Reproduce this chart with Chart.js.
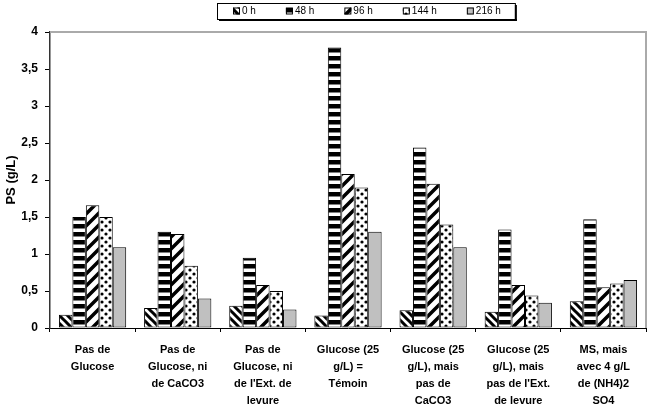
<!DOCTYPE html>
<html>
<head>
<meta charset="utf-8">
<script src="https://cdn.jsdelivr.net/npm/chart.js@4"></script>
<style>
  html, body { margin: 0; padding: 0; background: #fff; }
  #wrap { width: 670px; height: 410px; }
</style>
</head>
<body>
<div id="wrap"><canvas id="c" width="670" height="410"></canvas></div>
<script>
const categories = [
  ["Pas de", "Glucose"],
  ["Pas de", "Glucose, ni", "de CaCO3"],
  ["Pas de", "Glucose, ni", "de l'Ext. de", "levure"],
  ["Glucose (25", "g/L) =", "Témoin"],
  ["Glucose (25", "g/L), mais", "pas de", "CaCO3"],
  ["Glucose (25", "g/L), mais", "pas de l'Ext.", "de levure"],
  ["MS, mais", "avec 4 g/L", "de (NH4)2", "SO4"]
];
const seriesLabels = ["0 h", "48 h", "96 h", "144 h", "216 h"];
const values0h   = [0.18, 0.27, 0.30, 0.17, 0.24, 0.22, 0.36];
const values48h  = [1.50, 1.30, 0.95, 3.79, 2.44, 1.33, 1.47];
const values96h  = [1.66, 1.27, 0.58, 2.08, 1.95, 0.58, 0.55];
const values144h = [1.50, 0.84, 0.50, 1.90, 1.40, 0.44, 0.60];
const values216h = [1.09, 0.40, 0.25, 1.30, 1.09, 0.34, 0.65];
const yTicks = [0, 0.5, 1, 1.5, 2, 2.5, 3, 3.5, 4];

const FONT = "'Liberation Sans', Arial, sans-serif";

function makePattern(w, h, draw) {
  const cv = document.createElement('canvas');
  cv.width = w; cv.height = h;
  const g = cv.getContext('2d');
  g.fillStyle = '#fff';
  g.fillRect(0, 0, w, h);
  g.fillStyle = '#000';
  g.strokeStyle = '#000';
  draw(g, w, h);
  return document.getElementById('c').getContext('2d').createPattern(cv, 'repeat');
}
const pat0 = makePattern(8, 8, (g, w, h) => {
  g.lineWidth = 3;
  g.beginPath();
  g.moveTo(-2, -2); g.lineTo(w + 2, h + 2);
  g.moveTo(-2, h - 2); g.lineTo(2, h + 2);
  g.moveTo(w - 2, -2); g.lineTo(w + 2, 2);
  g.stroke();
});
const pat48 = makePattern(8, 8, (g, w, h) => {
  g.fillRect(0, 0, w, 4.5);
});
const pat96 = makePattern(12, 12, (g, w, h) => {
  g.lineWidth = 3.5;
  g.beginPath();
  g.moveTo(-2, h + 2); g.lineTo(w + 2, -2);
  g.moveTo(-2, 2); g.lineTo(2, -2);
  g.moveTo(w - 2, h + 2); g.lineTo(w + 2, h - 2);
  g.stroke();
});
const pat144 = makePattern(8, 8, (g, w, h) => {
  g.beginPath(); g.arc(2, 2, 1.6, 0, Math.PI * 2); g.fill();
  g.beginPath(); g.arc(6, 6, 1.6, 0, Math.PI * 2); g.fill();
});
const fills = [pat0, pat48, pat96, pat144, '#c0c0c0'];
const seriesValues = [values0h, values48h, values96h, values144h, values216h];

const frameAndLegend = {
  id: 'frameAndLegend',
  afterDraw(chart) {
    const ctx = chart.ctx;
    const a = chart.chartArea;
    ctx.save();
    ctx.strokeStyle = '#aaaaaa';
    ctx.lineWidth = 2;
    ctx.beginPath();
    ctx.moveTo(a.left, a.top);
    ctx.lineTo(a.right, a.top);
    ctx.lineTo(a.right, a.bottom);
    ctx.stroke();
    ctx.font = '10px ' + FONT;
    ctx.textBaseline = 'middle';
    const startX = 233, cy = 11, sw = 7, gap = 30;
    let x = startX;
    let lastEnd = x;
    chart.data.datasets.forEach((ds) => {
      ctx.fillStyle = ds.backgroundColor;
      ctx.fillRect(x, cy - 3.5, sw, sw);
      ctx.strokeStyle = '#000';
      ctx.lineWidth = 1;
      ctx.strokeRect(x + 0.5, cy - 3, sw - 1, sw - 1);
      ctx.fillStyle = '#000';
      const tx = x + sw + 2;
      ctx.fillText(ds.label, tx, cy + 0.5);
      const tw = ctx.measureText(ds.label).width;
      lastEnd = tx + tw;
      x = tx + tw + gap;
    });
    const bx = startX - 16, by = 3, bw = lastEnd + 14 - bx, bh = 16;
    ctx.fillStyle = '#000';
    ctx.fillRect(bx + 2, by + bh, bw, 2);
    ctx.fillRect(bx + bw, by + 2, 2, bh);
    ctx.strokeStyle = '#000';
    ctx.lineWidth = 1;
    ctx.strokeRect(bx + 0.5, by + 0.5, bw, bh);
    ctx.restore();
  }
};

new Chart(document.getElementById('c'), {
  type: 'bar',
  data: {
    labels: categories,
    datasets: seriesLabels.map((lab, i) => ({
      label: lab,
      data: seriesValues[i],
      backgroundColor: fills[i],
      borderColor: '#000',
      borderWidth: 1,
      borderSkipped: false,
      categoryPercentage: 0.79,
      barPercentage: 1.0
    }))
  },
  options: {
    responsive: false,
    animation: false,
    devicePixelRatio: 1,
    layout: { padding: { top: 32, right: 24, left: 0, bottom: 0 } },
    plugins: {
      legend: { display: false },
      tooltip: { enabled: false }
    },
    scales: {
      x: {
        offset: true,
        afterFit(scale) { scale.height = 82; },
        grid: {
          offset: true,
          drawOnChartArea: false,
          drawTicks: true,
          tickLength: 4,
          color: '#000'
        },
        border: { display: true, color: '#000', width: 1 },
        ticks: {
          autoSkip: false,
          maxRotation: 0,
          minRotation: 0,
          padding: 10,
          color: '#000',
          font: { family: FONT, size: 11, weight: 'bold', lineHeight: 1.52 }
        }
      },
      y: {
        min: 0,
        max: 4,
        afterFit(scale) { scale.width = 50; },
        afterBuildTicks(scale) { scale.ticks = yTicks.map(v => ({ value: v })); },
        grid: {
          drawOnChartArea: false,
          drawTicks: true,
          tickLength: 5,
          color: '#000'
        },
        border: { display: true, color: '#333', width: 1.5 },
        ticks: {
          padding: 7,
          color: '#000',
          font: { family: FONT, size: 12, weight: 'bold' },
          callback: (v) => String(v).replace('.', ',')
        },
        title: {
          display: true,
          text: 'PS (g/L)',
          color: '#000',
          padding: { top: 4, bottom: 0 },
          font: { family: FONT, size: 13, weight: 'bold' }
        }
      }
    }
  },
  plugins: [frameAndLegend]
});
</script>
</body>
</html>
